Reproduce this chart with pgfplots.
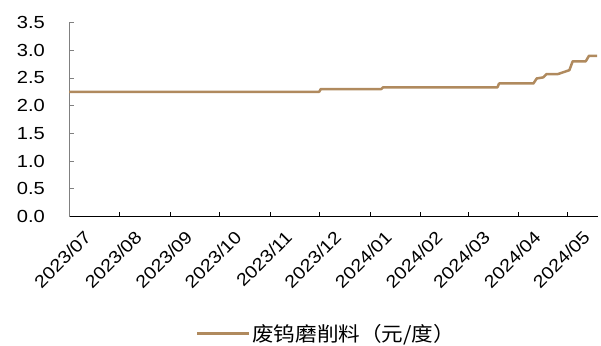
\documentclass[border=0pt]{standalone}
\usepackage{graphicx}
\usepackage{fontspec}
\setmainfont{Liberation Sans}
\newfontfamily\cjk{Noto Sans CJK SC}
\usepackage{pgfplots}
\pgfplotsset{compat=1.18}
\definecolor{tungsten}{RGB}{176,138,94}
% the reference's text is a little wider than Arial
\newcommand\wide[1]{\scalebox{1.15}[1]{#1}}
\newcommand\xw[1]{\scalebox{1.13}[1]{#1}}
\begin{document}
\begin{tikzpicture}[x=1pt,y=1pt]
  \useasboundingbox (0,0) rectangle (601,345);
  \begin{axis}[
      at={(69pt,128.5pt)}, anchor=south west,
      scale only axis, width=529pt, height=194pt,
      xmin=0, xmax=323.5, ymin=0, ymax=3.5,
      axis x line*=bottom, axis y line*=left,
      x axis line style={-,black,line width=0.8pt},
      y axis line style={-,gray,line width=0.8pt},
      tick align=inside, major tick length=4.5pt,
      xtick style={black,line width=0.6pt},
      ytick style={gray,line width=0.6pt},
      xtick={0,31,62,92,123,153,184,215,244,275,305},
      xticklabels={\xw{2023/07},\xw{2023/08},\xw{2023/09},\xw{2023/10},\xw{2023/11},\xw{2023/12},
        \xw{2024/01},\xw{2024/02},\xw{2024/03},\xw{2024/04},\xw{2024/05}},
      ytick={0,0.5,...,3.5},
      yticklabel={\wide{\pgfmathprintnumber{\tick}}},
      /pgf/number format/fixed,
      /pgf/number format/fixed zerofill,
      /pgf/number format/precision=1,
      /pgf/number format/assume math mode=true,
      yticklabel style={font=\fontsize{17.5}{20}\selectfont, anchor=east, inner sep=0pt, xshift=-24pt},
      xticklabel style={font=\fontsize{17.5}{20}\selectfont, rotate=45, anchor=north east, inner sep=0pt, xshift=1pt, yshift=-19pt},
      legend style={at={(0.4867,-0.603)}, anchor=center, draw=none, fill=none,
        font=\cjk\fontsize{20}{22}\selectfont, inner sep=0pt,
        /tikz/every even column/.append style={column sep=0pt}},
      legend cell align=left,
      legend image code/.code={\draw[#1] (0pt,0pt) -- (52pt,0pt);},
    ]
    \addplot[tungsten, line width=2.5pt, line join=round] coordinates {
      (0,2.25) (153,2.25) (154,2.30) (191,2.30) (192,2.33) (262,2.33)
      (263,2.40) (284,2.40) (286,2.49) (290,2.51) (292,2.57) (299,2.57)
      (306,2.64) (308,2.80) (316,2.80) (318,2.90) (323,2.90)
    };
    \addlegendentry{\scalebox{1.08}[1]{废钨磨削料（元/度）}}
  \end{axis}
\end{tikzpicture}
\end{document}
